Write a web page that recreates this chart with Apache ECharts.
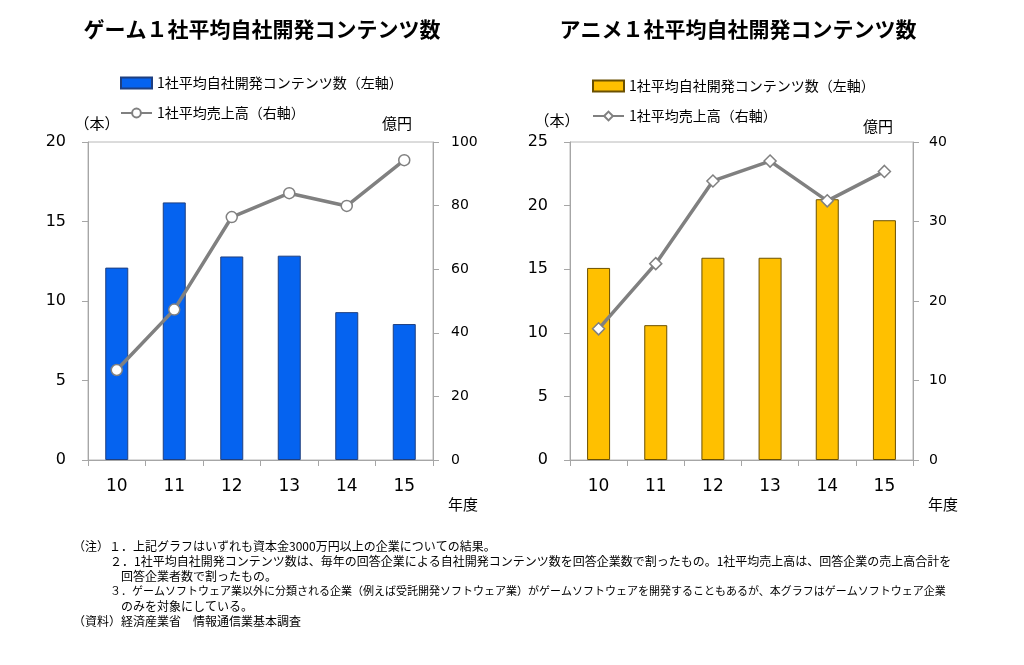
<!DOCTYPE html>
<html><head><meta charset="utf-8">
<script src="https://cdn.jsdelivr.net/npm/echarts@6/dist/echarts.min.js"></script>
<style>html,body{margin:0;padding:0;background:#fff}#c{width:1024px;height:665px}</style>
</head><body><div id="c"></div>
<script>
const categories = ['10','11','12','13','14','15'];
const gameContents = [12.1, 16.2, 12.8, 12.85, 9.3, 8.55];
const gameSales = [28.3, 47.3, 76.4, 83.9, 79.9, 94.3];
const animeContents = [15.1, 10.6, 15.9, 15.9, 20.5, 18.85];
const animeSales = [16.5, 24.7, 35.1, 37.6, 32.6, 36.3];
const gameLeftTicks = {min:0, max:20, interval:5};
const gameRightTicks = {min:0, max:100, interval:20};
const animeLeftTicks = {min:0, max:25, interval:5};
const animeRightTicks = {min:0, max:40, interval:10};
const titles = ['ゲーム１社平均自社開発コンテンツ数', 'アニメ１社平均自社開発コンテンツ数'];
const barName = '1社平均自社開発コンテンツ数（左軸）';
const lineName = '1社平均売上高（右軸）';
const notes = [
  '（注）１．上記グラフはいずれも資本金3000万円以上の企業についての結果。',
  '２．1社平均自社開発コンテンツ数は、毎年の回答企業による自社開発コンテンツ数を回答企業数で割ったもの。1社平均売上高は、回答企業の売上高合計を',
  '回答企業者数で割ったもの。',
  '３．ゲームソフトウェア業以外に分類される企業（例えば受託開発ソフトウェア業）がゲームソフトウェアを開発することもあるが、本グラフはゲームソフトウェア企業',
  'のみを対象にしている。',
  '（資料）経済産業省　情報通信業基本調査'
];
// layout of the note lines: [left, top, font size]
const noteLayout = [[73,540,12],[110,555,12],[121,570,12],[110,585,11],[121,600,12],[73,615,12]];

const CJK = '"Noto Sans CJK JP", sans-serif';
const NUM = '"DejaVu Sans", sans-serif';
const names = {gBar: barName, gLine: lineName, aBar: barName, aLine: lineName};

function xAx(gi){
  return {type:'category', gridIndex:gi, data:categories, boundaryGap:true,
    axisLine:{lineStyle:{color:'#a6a6a6', width:1}},
    axisTick:{show:true, length:6, lineStyle:{color:'#a6a6a6'}},
    axisLabel:{color:'#000', fontSize:17, fontFamily:NUM, margin:18},
    name:'年度', nameLocation:'end', nameGap:15,
    nameTextStyle:{color:'#000', fontSize:15, fontFamily:CJK, verticalAlign:'top', padding:[37,0,0,0]}};
}
function yAx(gi, t, pos, name, nameStyle, gap, margin){
  return {type:'value', gridIndex:gi, position:pos, min:t.min, max:t.max, interval:t.interval,
    axisLine:{show:true, lineStyle:{color:'#a6a6a6'}},
    axisTick:{show:true, length:6, lineStyle:{color:'#a6a6a6'}},
    splitLine:{show:false},
    axisLabel:{color:'#000', fontSize:pos==='left'?16:14, fontFamily:NUM, margin:margin},
    name:name, nameLocation:'end', nameGap:gap,
    nameTextStyle:Object.assign({color:'#000', fontSize:15, fontFamily:CJK}, nameStyle)};
}
function legend(left, top, ids){
  return {left:left, top:top, orient:'vertical', padding:0, itemGap:16, itemWidth:31, itemHeight:11,
    data:[{name:ids[0], icon:'rect'}, {name:ids[1]}], formatter:n=>names[n],
    textStyle:{color:'#000', fontSize:14, fontFamily:CJK}};
}

const chart = echarts.init(document.getElementById('c'));
chart.setOption({
  animation:false,
  backgroundColor:'#fff',
  title:[
    {text:titles[0], left:257, top:14, textAlign:'center', textStyle:{fontSize:21, fontWeight:'bold', fontFamily:CJK, color:'#000'}},
    {text:titles[1], left:733, top:14, textAlign:'center', textStyle:{fontSize:21, fontWeight:'bold', fontFamily:CJK, color:'#000'}}
  ],
  legend:[legend(120, 76, ['gBar','gLine']), legend(592, 79, ['aBar','aLine'])],
  grid:[
    {left:88, top:142, width:345, height:318, show:true, borderColor:'#b8b8b8', borderWidth:1},
    {left:570, top:142, width:343, height:318, show:true, borderColor:'#b8b8b8', borderWidth:1}
  ],
  xAxis:[xAx(0), xAx(1)],
  yAxis:[
    yAx(0, gameLeftTicks, 'left', '（本）', {padding:[0,0,0,18]}, 11, 22),
    yAx(0, gameRightTicks, 'right', '億円', {align:'right', padding:[0,21,0,0]}, 11, 18),
    yAx(1, animeLeftTicks, 'left', '（本）', {padding:[0,26,0,0]}, 14, 22),
    yAx(1, animeRightTicks, 'right', '億円', {align:'right', padding:[0,20,0,0]}, 8, 16)
  ],
  series:[
    {name:'gBar', type:'bar', xAxisIndex:0, yAxisIndex:0, data:gameContents, barWidth:23,
      itemStyle:{color:'#0563f0', borderColor:'#1f3f7f', borderWidth:1}},
    {name:'gLine', type:'line', xAxisIndex:0, yAxisIndex:1, data:gameSales,
      symbol:'circle', symbolSize:11, lineStyle:{color:'#808080', width:3.5},
      itemStyle:{color:'#fff', borderColor:'#808080', borderWidth:1.5}},
    {name:'aBar', type:'bar', xAxisIndex:1, yAxisIndex:2, data:animeContents, barWidth:23,
      itemStyle:{color:'#ffc000', borderColor:'#6b5000', borderWidth:1}},
    {name:'aLine', type:'line', xAxisIndex:1, yAxisIndex:3, data:animeSales,
      symbol:'diamond', symbolSize:12, lineStyle:{color:'#808080', width:3.5},
      itemStyle:{color:'#fff', borderColor:'#808080', borderWidth:1.5}}
  ],
  graphic:notes.map((t,i)=>({type:'text', left:noteLayout[i][0], top:noteLayout[i][1],
    style:{text:t, fill:'#000', font:noteLayout[i][2]+'px '+CJK}}))
});
</script></body></html>
